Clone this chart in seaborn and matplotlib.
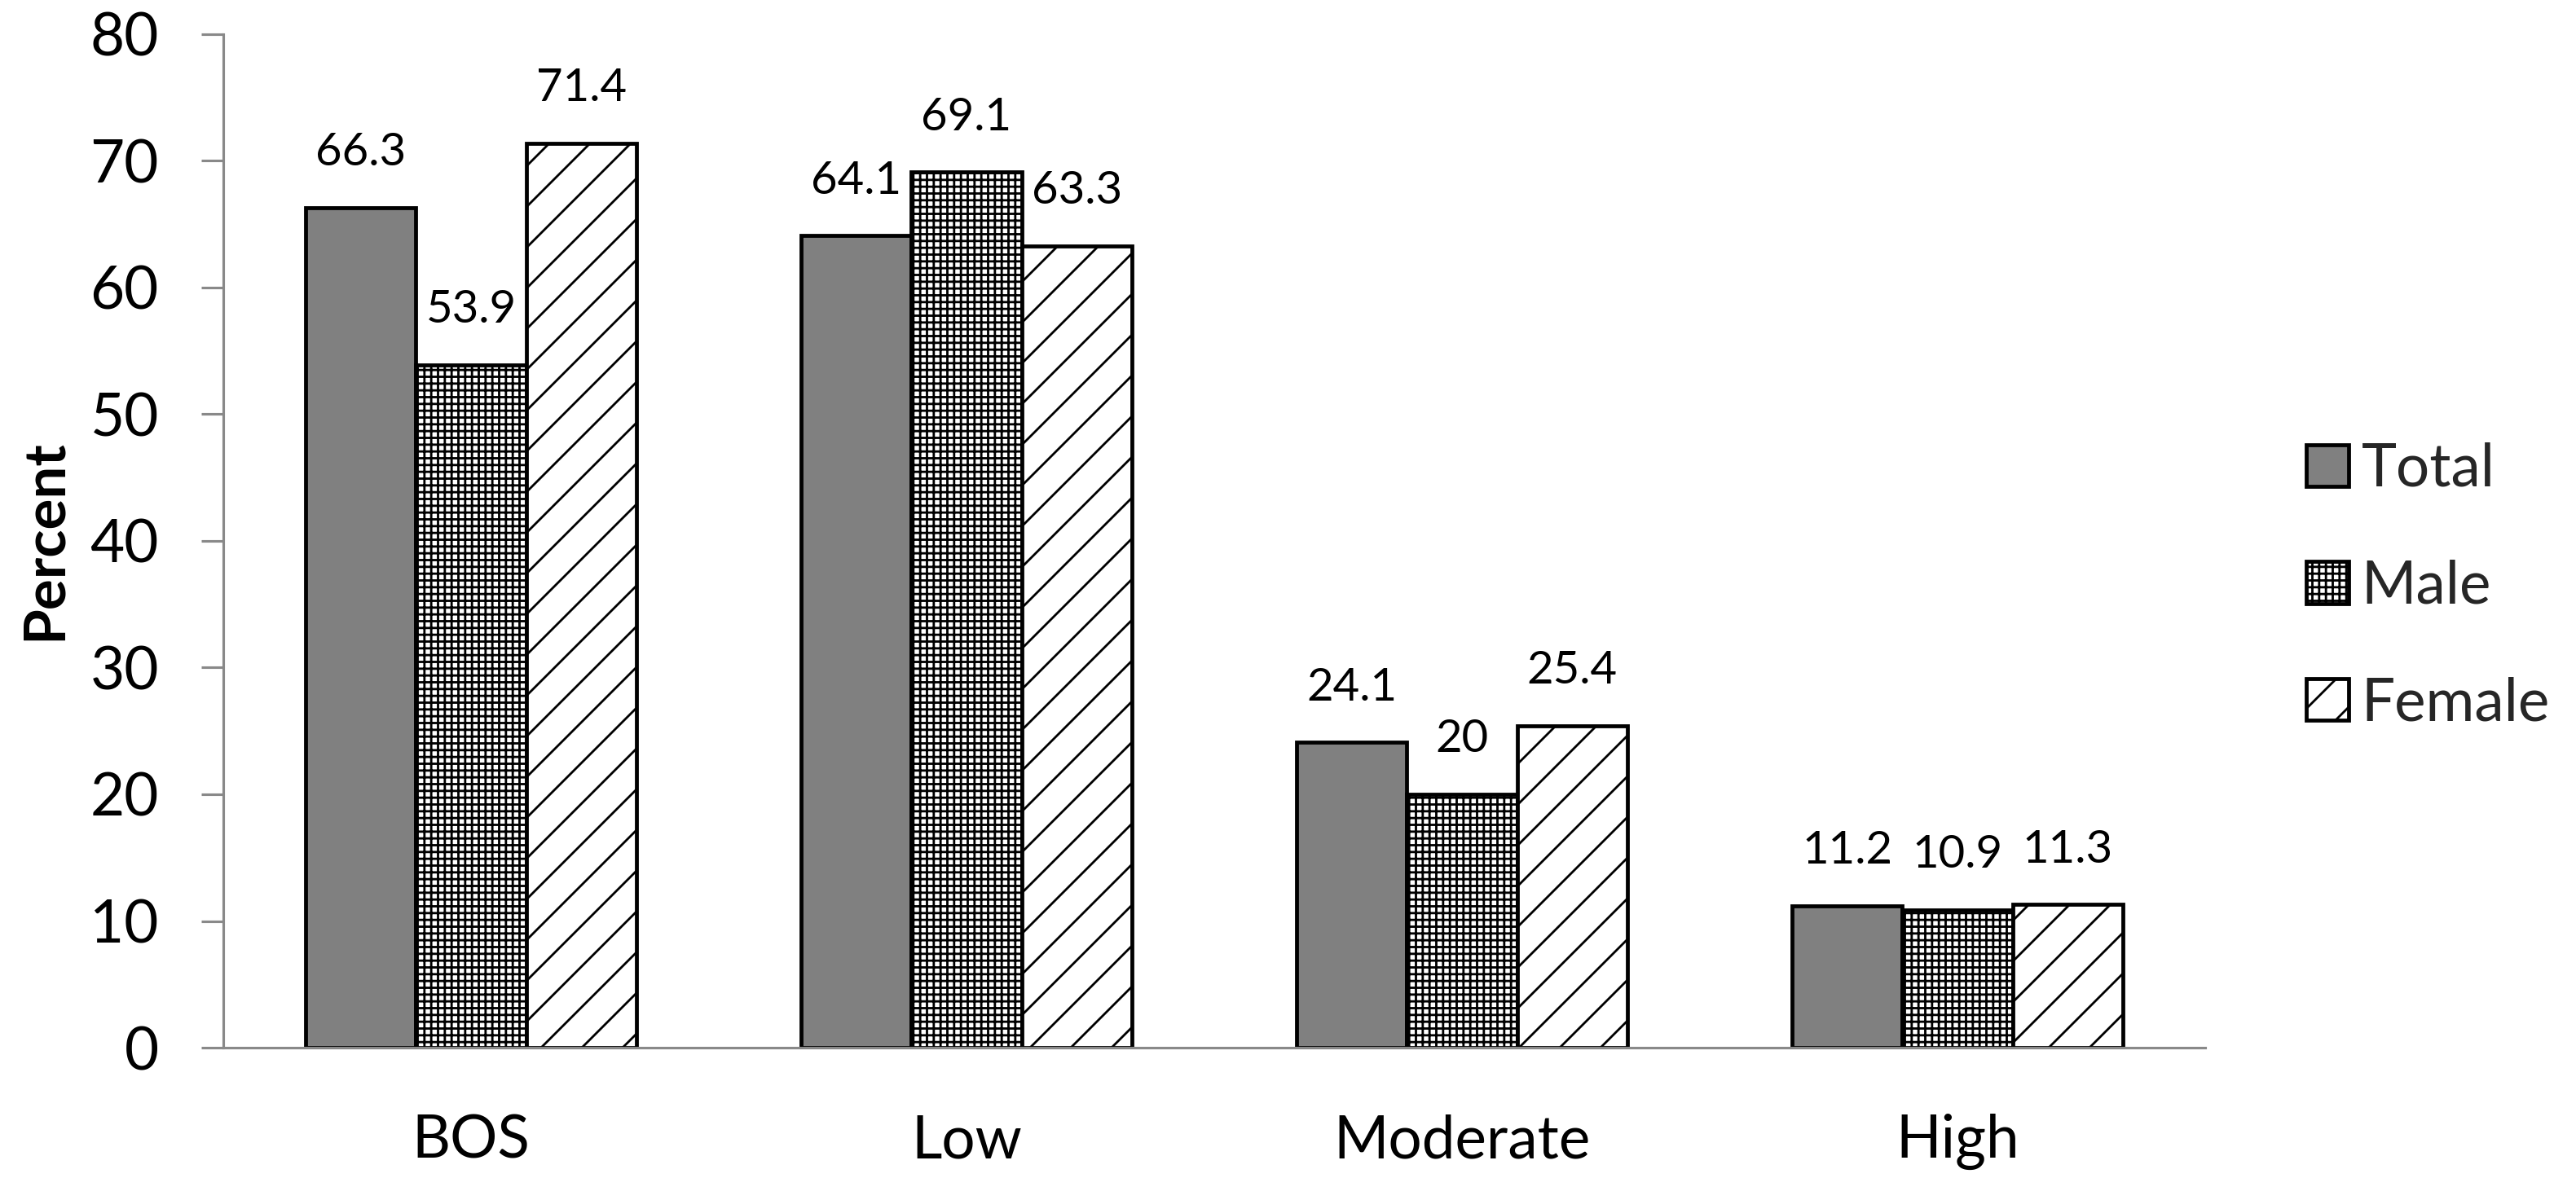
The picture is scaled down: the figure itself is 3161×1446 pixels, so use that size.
import matplotlib
matplotlib.use('Agg')
import matplotlib.pyplot as plt
import seaborn as sns
import pandas as pd
from matplotlib.patches import Patch
from matplotlib.ticker import FixedLocator, NullFormatter

# ---- data ----
categories = ['BOS', 'Low', 'Moderate', 'High']
groups = ['Total', 'Male', 'Female']
total = [66.3, 64.1, 24.1, 11.2]
male = [53.9, 69.1, 20, 10.9]
female = [71.4, 63.3, 25.4, 11.3]
y_ticks = [0, 10, 20, 30, 40, 50, 60, 70, 80]
y_label = 'Percent'

sns.set_theme(style='white')
plt.rcParams['font.family'] = ['Lato', 'DejaVu Sans']
plt.rcParams['hatch.linewidth'] = 1.35
plt.rcParams['hatch.color'] = 'black'

df = pd.DataFrame({
    'Category': categories * 3,
    'Group': [g for g in groups for _ in categories],
    'Percent': total + male + female,
})

W, H, DPI = 3161, 1446, 150
fig = plt.figure(figsize=(W / DPI, H / DPI), dpi=DPI)
fig.patch.set_facecolor('white')
x0, x1, y0, y1 = 274, 2706, 42, 1286
ax = fig.add_axes([x0 / W, 1 - y1 / H, (x1 - x0) / W, (y1 - y0) / H])

fills = ['#808080', 'white', 'white']
hatches = ['', '+++', '/']
edge_lw = 2.3

sns.barplot(data=df, x='Category', y='Percent', hue='Group', order=categories,
            hue_order=groups, palette=fills, width=2 / 3, gap=0, saturation=1,
            edgecolor='black', linewidth=edge_lw, errorbar=None, ax=ax)

series = [total, male, female]
for cont, h, vals in zip(ax.containers, hatches, series):
    for p in cont:
        p.set_hatch(h)
    ax.bar_label(cont, labels=[f'{v:g}' for v in vals], padding=20,
                 fontsize=27, color='black')

if ax.get_legend() is not None:
    ax.get_legend().remove()

axis_gray = '#898989'
ax.set_ylim(0, 80)
ax.set_xlim(-0.5, len(categories) - 0.5)
ax.set_yticks(y_ticks)
ax.set_yticklabels([str(t) for t in y_ticks], fontsize=35)
ax.set_xticks(range(len(categories)))
ax.set_xticklabels(categories, fontsize=35)
ax.xaxis.set_minor_locator(FixedLocator([i - 0.5 for i in range(len(categories) + 1)]))
ax.xaxis.set_minor_formatter(NullFormatter())
ax.tick_params(axis='x', which='major', length=0, pad=39, colors='black')
ax.tick_params(axis='x', which='minor', length=11.5, width=1.5, color=axis_gray, direction='out')
ax.tick_params(axis='y', which='major', length=13, width=1.5, color=axis_gray,
               labelcolor='black', pad=25, direction='out', left=True)
for s in ['top', 'right']:
    ax.spines[s].set_visible(False)
for s in ['left', 'bottom']:
    ax.spines[s].set_color(axis_gray)
    ax.spines[s].set_linewidth(1.5)
ax.set_xlabel('')
ax.set_ylabel(y_label, fontsize=34, fontweight='bold', color='black')
ax.yaxis.set_label_coords((87 - x0) / (x1 - x0), (y1 - 663) / (y1 - y0))
ax.grid(False)

handles = [Patch(facecolor=f, edgecolor='black', hatch=h, linewidth=edge_lw)
           for f, h in zip(fills, hatches)]
fig.legend(handles, groups, loc='center left', bbox_to_anchor=(2830 / W, 1 - 720 / H),
           frameon=False, fontsize=35, handlelength=0.71, handleheight=0.71,
           handletextpad=0.22, labelspacing=1.05, borderpad=0, borderaxespad=0)

fig.savefig('out.png', dpi=DPI, facecolor='white')
